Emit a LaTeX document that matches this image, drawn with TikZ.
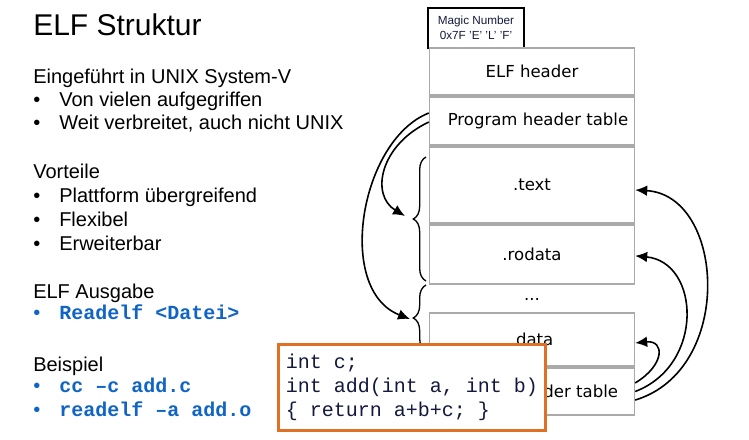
\documentclass[tikz,border=0pt]{standalone}
\usepackage{fontspec}
\setmainfont{Liberation Sans}
\setmonofont{Liberation Mono}
\newfontfamily\boxfont{DejaVu Sans}
\usepackage{tikz}
\usetikzlibrary{decorations.pathreplacing, arrows.meta}
\usepackage{xcolor}

\definecolor{cmdblue}{RGB}{16,100,196}
\definecolor{codeorange}{RGB}{224,112,36}
\definecolor{boxgray}{RGB}{170,170,170}
\definecolor{navytext}{RGB}{20,24,60}

\tikzset{
  slidetext/.style={anchor=base west, inner sep=0.75pt, font=\fontsize{15}{18}\selectfont},
  bullettext/.style={slidetext},
  cmdtext/.style={anchor=base west, inner sep=0.75pt, font=\fontsize{15}{18}\selectfont\ttfamily\bfseries, text=cmdblue},
  secbox/.style={draw=boxgray, line width=1pt, minimum width=153.75pt, inner sep=0pt, font=\fontsize{12.4}{15}\selectfont\boxfont},
  bracebar/.style={decorate, decoration={brace, amplitude=9.5pt}, line width=1pt},
  linkarrow/.style={line width=1.2pt, -{Latex[length=9pt, width=8pt]}},
}

\begin{document}
\begin{tikzpicture}[x=0.75pt,y=0.75pt,yscale=-1,xscale=1]
    \useasboundingbox (0,0) rectangle (749,439);

    % Text Node
    \draw (32,35) node [anchor=base west][inner sep=0.75pt] [font=\fontsize{22.5}{27}\selectfont] (title) {ELF Struktur};

    % Text Node
    \draw (32,83) node [slidetext] (intro) {Eingeführt in UNIX System-V};
    \draw (32,106) node [slidetext] (dotA) {•};
    \draw (58,106) node [bullettext] (introA) {Von vielen aufgegriffen};
    \draw (32,129) node [slidetext] (dotB) {•};
    \draw (58,129) node [bullettext] (introB) {Weit verbreitet, auch nicht UNIX};

    % Text Node
    \draw (32,178) node [slidetext] (pros) {Vorteile};
    \draw (32,202) node [slidetext] (dotC) {•};
    \draw (58,202) node [bullettext] (prosA) {Plattform übergreifend};
    \draw (32,226) node [slidetext] (dotD) {•};
    \draw (58,226) node [bullettext] (prosB) {Flexibel};
    \draw (32,250) node [slidetext] (dotE) {•};
    \draw (58,250) node [bullettext] (prosC) {Erweiterbar};

    % Text Node
    \draw (32,298) node [slidetext] (output) {ELF Ausgabe};
    \draw (32,319) node [slidetext, text=cmdblue] (dotF) {•};
    \draw (58,319) node [cmdtext] (outputA) {Readelf <Datei>};

    % Text Node
    \draw (32,371) node [slidetext] (sample) {Beispiel};
    \draw (32,392) node [slidetext, text=cmdblue] (dotG) {•};
    \draw (58,392) node [cmdtext] (sampleA) {cc –c add.c};
    \draw (32,416) node [slidetext, text=cmdblue] (dotH) {•};
    \draw (58,416) node [cmdtext] (sampleB) {readelf –a add.o};

    %Shape: Rectangle [id:magic]
    \draw (476,28) node [draw, line width=0.8pt, minimum width=72pt, minimum height=30pt, inner sep=0pt, align=center, text=navytext, font=\fontsize{8.8}{11.5}\selectfont] (magic) {Magic Number\\0x7F 'E' 'L' 'F'};

    %Shape: Rectangle [id:sections]
    \draw (532,71.5) node [secbox, minimum height=35.25pt] (elfhdr) {ELF header};
    \draw (532,121) node [secbox, minimum height=36pt] (pht) {\hspace{9pt}Program header table};
    \draw (532,185) node [secbox, minimum height=57pt] (text) {.text};
    \draw (532,254.5) node [secbox, minimum height=44.25pt] (rodata) {.rodata};
    \draw (532,299) node [inner sep=0pt, font=\fontsize{12.4}{15}\selectfont\boxfont] (dots) {...};
    \draw (532,339.5) node [secbox, minimum height=39.75pt] (data) {.data};
    \draw (532,391.5) node [secbox, minimum height=35.25pt] (sht) {Section header table};

    %Shape: Brace
    \draw [bracebar] (426,281) -- (426,157);
    \coordinate (tipA) at (405,216);
    \draw [bracebar] (426,351) -- (426,285);
    \coordinate (tipB) at (410,319);

    %Straight Lines [id:left links]
    \draw [linkarrow] ([yshift=0.75pt]pht.west) .. controls (380,145) and (370,195) .. (tipA);
    \draw [linkarrow] ([yshift=-6pt]pht.west) .. controls (360,140) and (335,290) .. (tipB);

    %Straight Lines [id:right links]
    \draw [linkarrow] ([yshift=6.4pt]sht.east) .. controls (735,370) and (725,195) .. ([yshift=3.75pt]text.east);
    \draw [linkarrow] ([yshift=0pt]sht.east) .. controls (705,365) and (700,262) .. ([yshift=1pt]rodata.east);
    \draw [linkarrow] ([yshift=-6.4pt]sht.east) .. controls (665,365) and (665,340) .. ([yshift=2.6pt]data.east);

    %Shape: Rectangle [id:code]
    \draw (277,343) node [anchor=north west, draw=codeorange, line width=2.25pt, fill=white, minimum width=200.25pt, minimum height=64.5pt, inner sep=0pt, align=left, text=navytext, font=\fontsize{15}{18}\selectfont\ttfamily] (code) {int c;\\int add(int a, int b)\\\{ return a+b+c; \}};

\end{tikzpicture}
\end{document}
